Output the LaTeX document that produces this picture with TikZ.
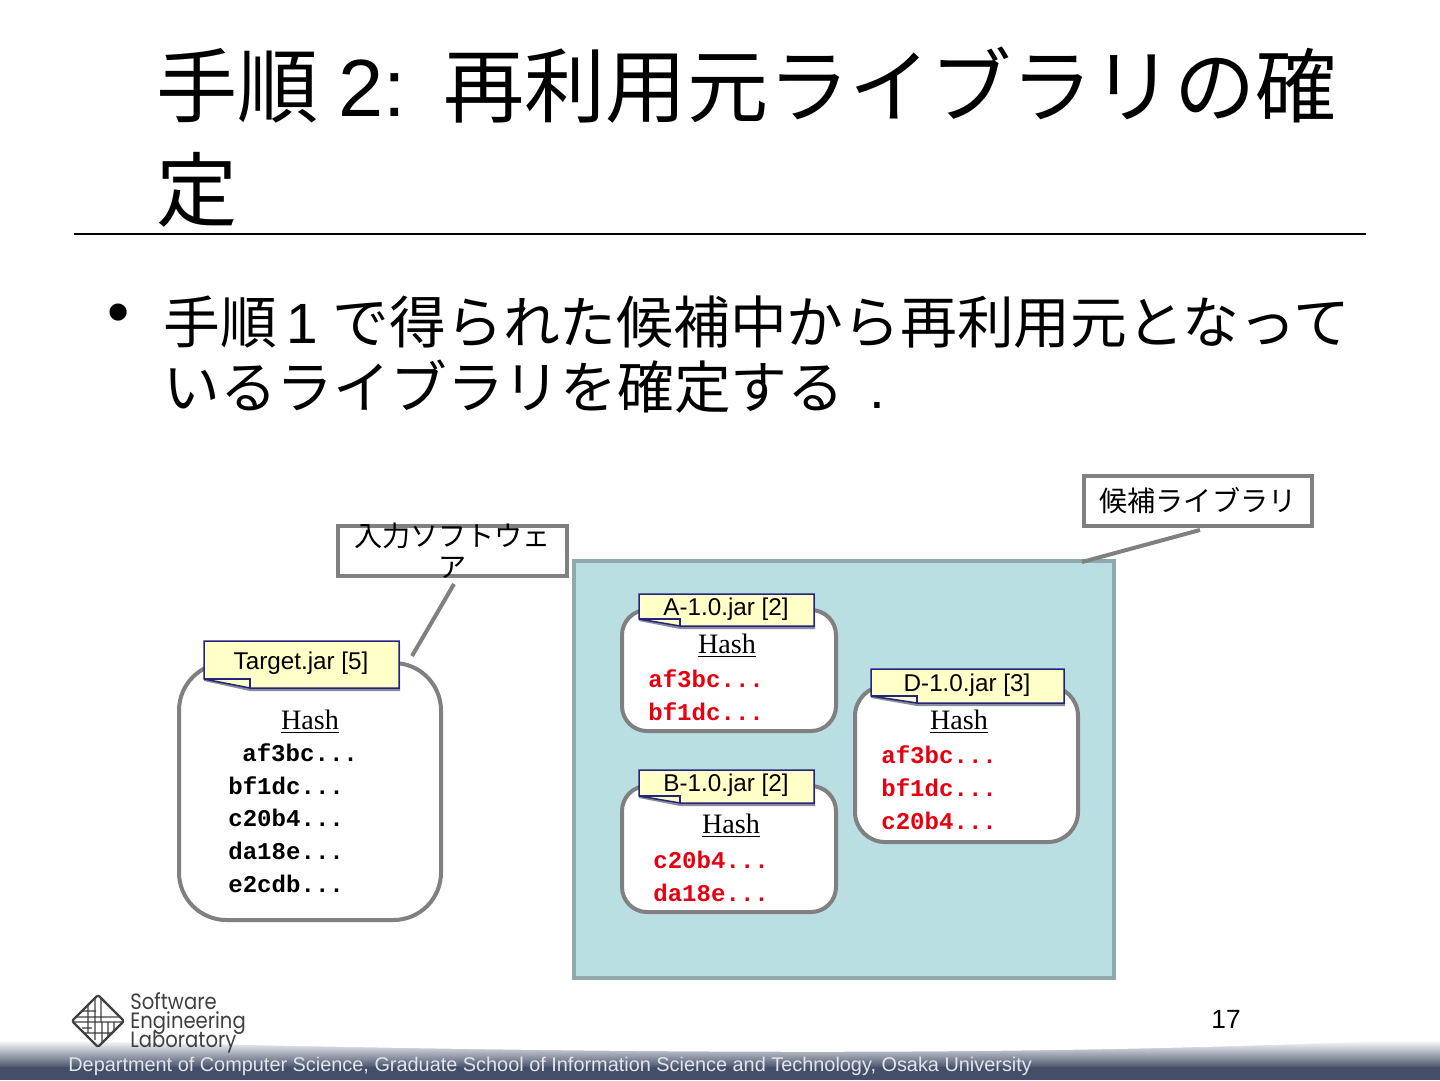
\documentclass[tikz,border=0pt]{standalone}
\usepackage{fontspec}
\setmainfont{Liberation Sans}
\newfontfamily\jpfont{Noto Sans CJK JP}
\newfontfamily\hashserif{Liberation Serif}
\newfontfamily\hashmono{Liberation Mono}[BoldFont={Liberation Mono Bold}]
\newfontfamily\logofont{Poppins}[FakeStretch=0.885]
\definecolor{panelteal}{HTML}{B9DFE3}
\definecolor{panelline}{HTML}{8FA9AD}
\definecolor{boxgrey}{HTML}{808080}
\definecolor{notefill}{HTML}{FFFFC8}
\definecolor{notenavy}{HTML}{24247A}
\definecolor{noteshade}{HTML}{8A8AA0}
\definecolor{bandblue}{HTML}{434F69}
\definecolor{hashred}{HTML}{E60010}
\tikzset{
  bandtext/.style={anchor=west,inner sep=0pt,text=white!85!bandblue,font=\fontsize{11.32}{13}\selectfont},
  titletext/.style={anchor=west,inner sep=0pt,font=\fontsize{46.2}{50}\selectfont},
  bodytext/.style={anchor=west,inner sep=0pt,font=\fontsize{32.3}{36}\selectfont},
  labelbox/.style={draw=boxgrey,line width=0.08cm,fill=white,inner sep=0pt,minimum width=4.58cm,minimum height=1cm},
  labeltext/.style={inner sep=0pt,align=center,font=\fontsize{16}{17.6}\selectfont},
  hashbox/.style={draw=boxgrey,line width=0.08cm,fill=white},
  callout/.style={draw=boxgrey,line width=0.08cm},
  hashhead/.style={inner sep=0pt,font=\hashserif\fontsize{16}{18}\selectfont},
  hashline/.style={anchor=west,inner sep=0pt,font=\hashmono\bfseries\fontsize{13.7}{15}\selectfont},
  hashhit/.style={hashline,text=hashred},
  notetext/.style={inner sep=0pt,font=\fontsize{13.8}{15}\selectfont},
  logotext/.style={anchor=west,inner sep=0pt,align=left,text=black!75,font=\logofont\fontsize{12.6}{10.77}\selectfont},
}
% note with a folded lower left corner: x0,y0,x1,y1,fold x,fold depth,name,text
\def\jarnote(#1,#2,#3,#4,#5,#6)#7#8{
  \fill[noteshade] (#1,#2+3) -- (#3+1,#2+3) -- (#3+1,#4+3) -- (#5,#4+3) -- (#1,#4-#6+2) -- cycle;
  \draw[notenavy,fill=notefill,line width=0.03cm] (#1,#2) -- (#3,#2) -- (#3,#4) -- (#5,#4) -- (#1,#4-#6) -- cycle;
  \draw[notenavy,line width=0.03cm] (#1,#4-#6) -- (#5,#4-#6) -- (#5,#4);
  \node[notetext] (#7) at ({(#1+#3)/2-0.5},{(#2+#4)/2-1}) {#8};
}
\begin{document}
\begin{tikzpicture}[x=0.02cm,y=-0.02cm]
	\useasboundingbox (0,0) rectangle (1440,1080);
	\fill[white] (0,0) rectangle (1440,1080);

	%%%%% title and bullet %%%%%
	\node[titletext] (titleone) at (156,85) {\jpfont 手順\hspace{11pt}{\normalfont 2:}\hspace{21.5pt}再利用元ライブラリの確};
	\node[titletext] (titletwo) at (156,190) {\jpfont 定};
	\draw[line width=0.04cm] (74,234) -- (1366,234);

	\node[bodytext,font=\fontsize{36}{36}\selectfont] (bulletdot) at (107,319) {•};
	\node[bodytext] (bodyone) at (163,322) {\jpfont 手順\,{\normalfont 1}\hspace{8.5pt}で得られた候補中から再利用元となって};
	\node[bodytext] (bodytwo) at (163,387) {\jpfont いるライブラリを確定する\,{\normalfont\ .}};

	%%%%% candidate panel %%%%%
	\draw[draw=panelline,fill=panelteal,line width=0.08cm] (574,561) rectangle (1114,978);
	\coordinate (panelcorner) at (1082,562);
	\node[labelbox] (candidatelabel) at (1198,501) {};
	\node[labeltext] (candidatetext) at (candidatelabel) {\jpfont 候補ライブラリ};
	\draw[callout] (candidatelabel.south) ++(2,2) -- (panelcorner);

	\node[labelbox] (inputlabel) at (452.5,551) {};
	\node[labeltext] (inputtext) at (inputlabel) {\jpfont 入力ソフトウェ\\\jpfont ア};

	%%%%% target jar %%%%%
	\draw[hashbox,rounded corners=0.95cm] (179,663) rectangle (441,920);
	\coordinate (targetcorner) at (412,656);
	\draw[callout] (inputlabel.south) ++(1.5,6) -- (targetcorner);
	\jarnote(204,641,399,688,250,9){targetnote}{Target.jar [5]}
	\node[hashhead] (targethead) at (310,722) {\underline{Hash}};
	\node[hashline] (targetone) at (242,753) {af3bc...};
	\node[hashline] (targettwo) at (228,786) {bf1dc...};
	\node[hashline] (targetthree) at (228,818) {c20b4...};
	\node[hashline] (targetfour) at (228,851) {da18e...};
	\node[hashline] (targetfive) at (228,884) {e2cdb...};

	%%%%% library A %%%%%
	\draw[hashbox,rounded corners=0.5cm] (622,610) rectangle (836,731);
	\jarnote(639,594,814,626,680,7){anote}{A-1.0.jar [2]}
	\node[hashhead] (ahead) at (727,646) {\underline{Hash}};
	\node[hashhit] (aone) at (648,679) {af3bc...};
	\node[hashhit] (atwo) at (648,712) {bf1dc...};

	%%%%% library B %%%%%
	\draw[hashbox,rounded corners=0.5cm] (622,786) rectangle (836,912);
	\jarnote(639,770,814,803,680,7){bnote}{B-1.0.jar [2]}
	\node[hashhead] (bhead) at (731,826) {\underline{Hash}};
	\node[hashhit] (bone) at (653,860) {c20b4...};
	\node[hashhit] (btwo) at (653,893) {da18e...};

	%%%%% library D %%%%%
	\draw[hashbox,rounded corners=0.6cm] (855,686) rectangle (1078,842);
	\jarnote(871,669,1064,703,917,7){dnote}{D-1.0.jar [3]}
	\node[hashhead] (dhead) at (959,722) {\underline{Hash}};
	\node[hashhit] (done) at (881,755) {af3bc...};
	\node[hashhit] (dtwo) at (881,788) {bf1dc...};
	\node[hashhit] (dthree) at (881,821) {c20b4...};

	%%%%% footer %%%%%
	\shade[top color=white,bottom color=bandblue] (0,1040) rectangle (1440,1068);
	\fill[white] (0,1039) .. controls (500,1052) and (1000,1060) .. (1440,1038) -- (1440,1030) -- (0,1030) -- cycle;
	\fill[bandblue] (0,1067) rectangle (1440,1080);
	\node[bandtext] (departmenttext) at (68,1066) {Department of Computer Science, Graduate School of Information Science and Technology, Osaka University};
	\node[inner sep=0pt,font=\fontsize{15}{16}\selectfont] (pagenumber) at (1226,1019) {17};

	%%%%% logo %%%%%
	\begin{scope}
		\clip (98,995) -- (124,1021) -- (98,1047) -- (72,1021) -- cycle;
		\draw[black!75,line width=0.025cm] (72,1017) -- (124,1017) (72,1022) -- (124,1022) (80,1011) -- (96,1011) (82,1028) -- (92,1028)
			(84,1033) -- (112,1033) (88,1005) -- (88,1033) (95,995) -- (95,1040) (101,995) -- (101,1022)
			(102,1022) -- (102,1047) (108,1022) -- (108,1042) (114,1022) -- (114,1036) (101,998) -- (122,1019);
	\end{scope}
	\draw[black!75,line width=0.045cm,line join=round,rounded corners=0.04cm] (98,995) -- (124,1021) -- (98,1047) -- (72,1021) -- cycle;
	\node[logotext] (logotext) at (130,1028.5) {\smash{Software}\\\smash{Engineering}\\\smash{Laboratory}};
\end{tikzpicture}
\end{document}
